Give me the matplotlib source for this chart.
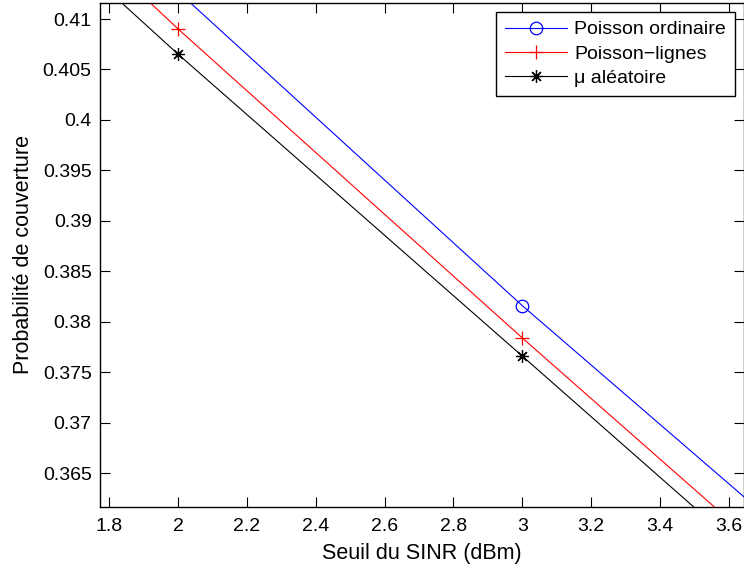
import numpy as np
import matplotlib
matplotlib.use("Agg")
import matplotlib.pyplot as plt

plt.rcParams["font.family"] = ["Liberation Sans", "DejaVu Sans"]

# SINR threshold (dBm) and coverage probability per model
seuil = [1, 2, 3, 4]
poisson_ordinaire = [0.4445, 0.4127, 0.3816, 0.3522]
poisson_lignes = [0.4410, 0.4090, 0.3784, 0.3484]
mu_aleatoire = [0.4375, 0.4065, 0.3766, 0.3466]

labels = ["Poisson ordinaire", "Poisson\u2212lignes", "\u03bc aléatoire"]
xticks = [1.8, 2, 2.2, 2.4, 2.6, 2.8, 3, 3.2, 3.4, 3.6]
yticks = [0.365, 0.37, 0.375, 0.38, 0.385, 0.39, 0.395, 0.4, 0.405, 0.41]
ytick_labels = ["0.365", "0.37", "0.375", "0.38", "0.385", "0.39", "0.395", "0.4", "0.405", "0.41"]

fig = plt.figure(figsize=(7.44, 5.69), dpi=100)
ax = fig.add_axes([100 / 744, (569 - 506.7) / 569, 644 / 744, 503.4 / 569])

ax.plot(seuil, poisson_ordinaire, color="blue", lw=0.8, marker="o", ms=9,
        mfc="none", mec="blue", mew=0.9, label=labels[0])
ax.plot(seuil, poisson_lignes, color="red", lw=0.8, marker="+", ms=10,
        mew=0.9, label=labels[1])
ax.plot(seuil, mu_aleatoire, color="black", lw=0.8, marker=(8, 2, 0), ms=9,
        mew=0.9, label=labels[2])

ax.set_xlim(1.7724, 3.645)
ax.set_ylim(0.36166, 0.41156)
ax.set_xticks(xticks)
ax.set_xticklabels([f"{t:g}" for t in xticks])
ax.set_yticks(yticks)
ax.set_yticklabels(ytick_labels)
ax.tick_params(direction="in", length=7, width=0.8, top=True, right=True,
               labelsize=14, colors="black")
ax.tick_params(axis="x", pad=8)
ax.tick_params(axis="y", pad=6)
for s in ax.spines.values():
    s.set_linewidth(1.0)

ax.set_xlabel("Seuil du SINR (dBm)", fontsize=15.5, labelpad=6)
ax.set_ylabel("Probabilité de couverture", fontsize=15.5, labelpad=6)

leg = ax.legend(loc="upper right", bbox_to_anchor=(735 / 744, 1 - 12 / 569),
                bbox_transform=fig.transFigure, borderaxespad=0, fontsize=14,
                fancybox=False, framealpha=1, edgecolor="black",
                handlelength=3.2, handletextpad=0.4, labelspacing=0.35,
                borderpad=0.45)
leg.get_frame().set_linewidth(1.0)

fig.savefig("out.png", dpi=100)
